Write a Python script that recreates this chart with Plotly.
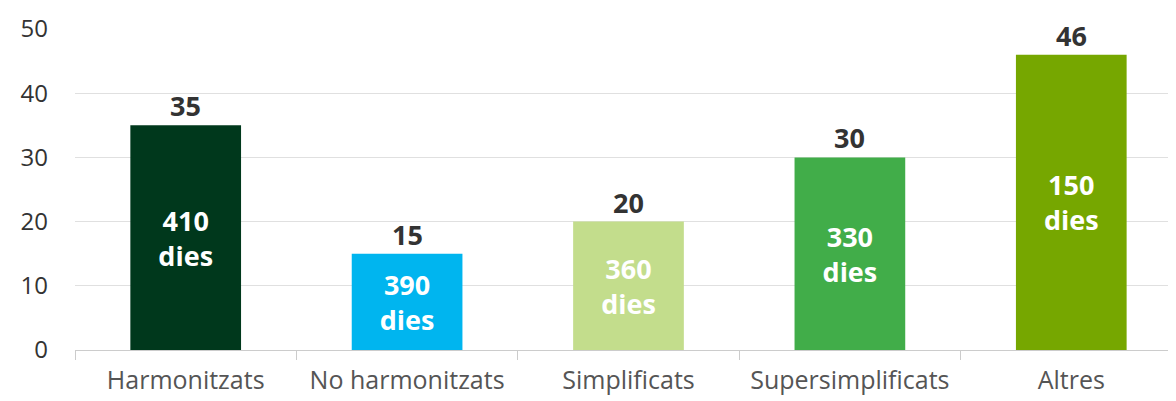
import plotly.graph_objects as go

categories = ["Harmonitzats", "No harmonitzats", "Simplificats", "Supersimplificats", "Altres"]
values = [35, 15, 20, 30, 46]
days = [410, 390, 360, 330, 150]
colors = ["#00381C", "#00B5EF", "#C3DD8C", "#41AD49", "#76A700"]
y_ticks = [0, 10, 20, 30, 40, 50]

inner_text = [f"<b>{d}<br>dies</b>" for d in days]

fig = go.Figure()
fig.add_trace(go.Bar(
    x=categories, y=values, marker=dict(color=colors, line=dict(width=0)),
    width=0.5,
    text=inner_text, textposition="inside", insidetextanchor="middle",
    textangle=0,
    textfont=dict(family="Open Sans", size=27, color="white"),
    hoverinfo="skip",
))
for c, v in zip(categories, values):
    fig.add_annotation(x=c, y=v, text=f"<b>{v}</b>", showarrow=False,
                       yanchor="bottom", yshift=-1,
                       font=dict(family="Open Sans", size=27, color="#333333"))

fig.update_layout(
    width=1168, height=393,
    margin=dict(l=67, r=0, t=21, b=51),
    plot_bgcolor="white", paper_bgcolor="white",
    showlegend=False,
    font=dict(family="Open Sans"),
    uniformtext=dict(minsize=8, mode="show"),
)
fig.update_xaxes(
    range=[-0.5, 4.473], automargin=False,
    tickson="boundaries", ticks="outside", ticklen=9, tickcolor="#cccccc",
    showline=True, linecolor="#cccccc", linewidth=1,
    tickfont=dict(family="Open Sans", size=25, color="#555555"),
    showgrid=False, ticklabelstandoff=8,
)
fig.update_yaxes(
    range=[0, 50], tickvals=y_ticks, automargin=False,
    showgrid=True, gridcolor="#e0e0e0", gridwidth=1,
    zeroline=False,
    tickfont=dict(family="Open Sans", size=24, color="#333333"),
    ticks="", ticklabelstandoff=26,
)

fig.write_html("out.html")
